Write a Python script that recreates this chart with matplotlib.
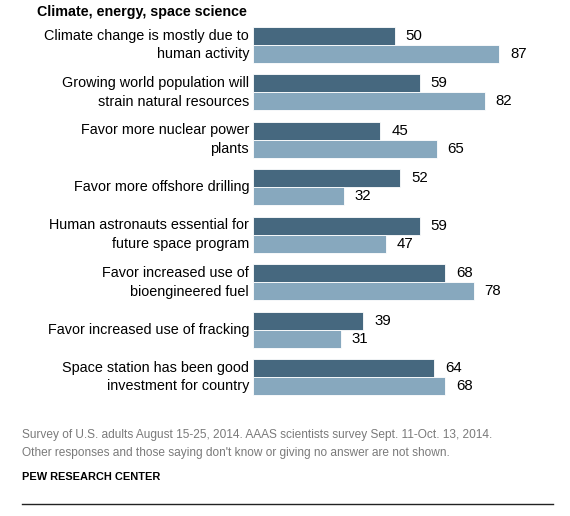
import numpy as np
import matplotlib
matplotlib.use("Agg")
import matplotlib.pyplot as plt

# survey items (top to bottom)
items = [
    "Climate change is mostly due to\nhuman activity",
    "Growing world population will\nstrain natural resources",
    "Favor more nuclear power\nplants",
    "Favor more offshore drilling",
    "Human astronauts essential for\nfuture space program",
    "Favor increased use of\nbioengineered fuel",
    "Favor increased use of fracking",
    "Space station has been good\ninvestment for country",
]
public = [50, 59, 45, 52, 59, 68, 39, 64]
scientists = [87, 82, 65, 32, 47, 78, 31, 68]

dark = "#46687f"
light = "#87a8be"

plt.rcParams["font.family"] = ["Liberation Sans", "DejaVu Sans"]

fig = plt.figure(figsize=(5.7, 5.16), dpi=100)
ax = fig.add_axes([0.4439, 0.2234, 0.4965, 0.7353])

y = np.arange(len(items))
h = 0.38
ax.barh(y - h / 2, public, height=h, color=dark, edgecolor="white", linewidth=0.6)
ax.barh(y + h / 2, scientists, height=h, color=light, edgecolor="white", linewidth=0.6)

for i in range(len(items)):
    ax.text(public[i] + 3.8, y[i] - h / 2, str(public[i]), va="center", ha="left", fontsize=10.8)
    ax.text(scientists[i] + 3.8, y[i] + h / 2, str(scientists[i]), va="center", ha="left", fontsize=10.8)
    ax.text(-1.4, y[i], items[i], va="center", ha="right", fontsize=10.4, linespacing=1.45)

ax.set_xlim(0, 100)
ax.set_ylim(len(items) - 0.5, -0.5)
ax.axis("off")

fig.text(37 / 570, 1 - 12 / 516, "Climate, energy, space science", fontsize=10.3,
         fontweight="bold", va="center", ha="left")
fig.text(22 / 570, 1 - 435 / 516, "Survey of U.S. adults August 15-25, 2014. AAAS scientists survey Sept. 11-Oct. 13, 2014.",
         fontsize=8.6, color="#7a7a7a", va="center", ha="left")
fig.text(22 / 570, 1 - 453 / 516, "Other responses and those saying don't know or giving no answer are not shown.",
         fontsize=8.6, color="#7a7a7a", va="center", ha="left")
fig.text(22 / 570, 1 - 477 / 516, "PEW RESEARCH CENTER", fontsize=7.9, fontweight="bold",
         va="center", ha="left")
fig.add_artist(plt.Line2D([22 / 570, 553 / 570], [1 - 504 / 516, 1 - 504 / 516],
                          color="#222222", linewidth=1.0))

fig.savefig("out.png", dpi=100)
